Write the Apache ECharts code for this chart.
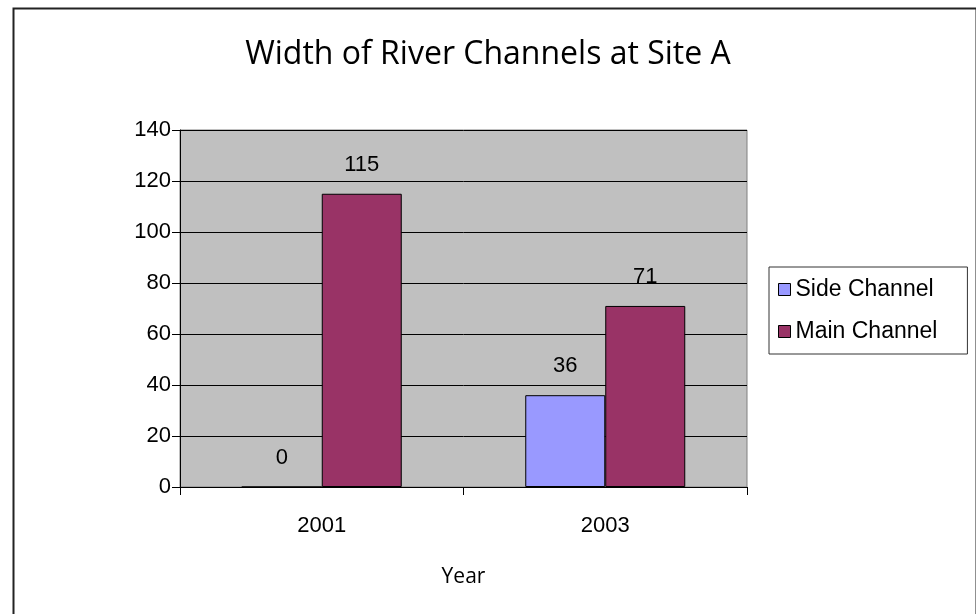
<!DOCTYPE html>
<html>
<head>
<meta charset="utf-8">
<script src="https://cdn.jsdelivr.net/npm/echarts@6/dist/echarts.min.js"></script>
<style>
html,body{margin:0;padding:0;background:#fff;}
#c{width:976px;height:614px;}
</style>
</head>
<body>
<div id="c"></div>
<script>
const titleText = 'Width of River Channels at Site A';
const categories = ['2001', '2003'];
const seriesNames = ['Side Channel', 'Main Channel'];
const sideChannel = [0, 36];
const mainChannel = [115, 71];
const yTicks = { min: 0, max: 140, interval: 20 };
const xAxisName = 'Year';

const chart = echarts.init(document.getElementById('c'));
const labelFont = 'Liberation Sans, Arial, sans-serif';
const barLabel = {
  show: true, position: 'top', distance: 18,
  color: '#000', fontFamily: labelFont, fontSize: 22
};
chart.setOption({
  backgroundColor: '#fff',
  animation: false,
  title: {
    text: titleText, left: 'center', top: 34,
    textStyle: { fontFamily: 'Open Sans, sans-serif', fontWeight: 'normal', fontSize: 32, color: '#000' }
  },
  graphic: [{
    type: 'rect', left: 11, top: 6, z: 100,
    shape: { width: 963, height: 620 },
    style: { fill: 'none', stroke: '#222', lineWidth: 2 }
  }],
  legend: {
    orient: 'vertical', left: 769, top: 267,
    data: seriesNames,
    icon: 'rect', itemWidth: 12, itemHeight: 12,
    itemGap: 19,
    padding: [11, 30, 11, 9],
    backgroundColor: '#fff', borderColor: '#333', borderWidth: 1,
    itemStyle: { borderColor: '#000', borderWidth: 1 },
    textStyle: { fontFamily: labelFont, fontSize: 23, color: '#000' }
  },
  grid: {
    left: 180, right: 229, top: 130, bottom: 127,
    show: true, backgroundColor: '#C0C0C0', borderColor: '#808080', borderWidth: 1
  },
  xAxis: {
    type: 'category', data: categories,
    name: xAxisName, nameLocation: 'middle', nameGap: 80,
    nameTextStyle: { fontFamily: 'Open Sans, sans-serif', fontSize: 21, color: '#000' },
    axisLine: { show: true, lineStyle: { color: '#000', width: 1 } },
    axisTick: { show: true, length: 8, inside: false, lineStyle: { color: '#000' } },
    axisLabel: { margin: 28, color: '#000', fontFamily: labelFont, fontSize: 22 }
  },
  yAxis: {
    type: 'value', min: yTicks.min, max: yTicks.max, interval: yTicks.interval,
    axisLine: { show: true, lineStyle: { color: '#000', width: 1 } },
    axisTick: { show: true, length: 8, lineStyle: { color: '#000' } },
    axisLabel: { margin: 9, color: '#000', fontFamily: labelFont, fontSize: 22 },
    splitLine: { show: true, lineStyle: { color: '#000', width: 1 } }
  },
  series: [
    {
      name: seriesNames[0], type: 'bar', data: sideChannel,
      barWidth: 80, barGap: '0%',
      itemStyle: { color: '#9999FF', borderColor: '#000', borderWidth: 1 },
      label: barLabel
    },
    {
      name: seriesNames[1], type: 'bar', data: mainChannel,
      barWidth: 80,
      itemStyle: { color: '#993366', borderColor: '#000', borderWidth: 1 },
      label: barLabel
    }
  ]
});
</script>
</body>
</html>
